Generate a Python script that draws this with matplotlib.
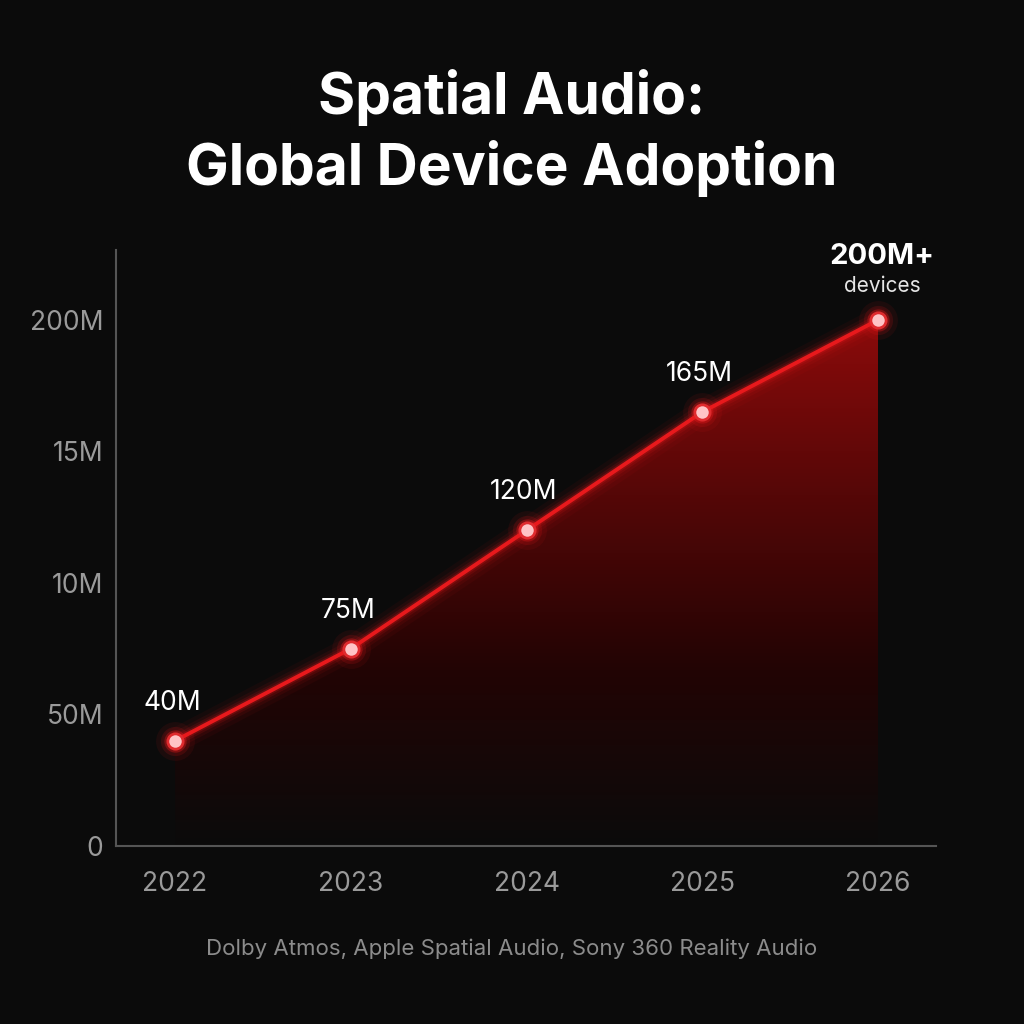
import numpy as np
import matplotlib.pyplot as plt
from matplotlib.colors import LinearSegmentedColormap
from matplotlib.patches import Polygon

plt.rcParams['font.family'] = ['Inter', 'DejaVu Sans']

# data
years = [2022, 2023, 2024, 2025, 2026]
devices = [40, 75, 120, 165, 200]          # millions
point_labels = ['40M', '75M', '120M', '165M']
ytick_vals = [0, 50, 100, 150, 200]
ytick_labels = ['0', '50M', '10M', '15M', '200M']   # as printed on the chart
title = 'Spatial Audio:\nGlobal Device Adoption'
footer = 'Dolby Atmos, Apple Spatial Audio, Sony 360 Reality Audio'

bg = '#0b0b0b'
red = '#e8191c'

fig = plt.figure(figsize=(10.24, 10.24), dpi=100, facecolor=bg)
ax = fig.add_axes([116/1024, 1 - 846/1024, 820/1024, 596/1024])
ax.set_facecolor(bg)

ax.set_xlim(2021.664, 2026.33)
ax.set_ylim(0, 226.6)

# gradient fill under the line
verts = [(years[0], 0)] + list(zip(years, devices)) + [(years[-1], 0)]
poly = Polygon(verts, closed=True, facecolor='none', edgecolor='none')
ax.add_patch(poly)
cmap = LinearSegmentedColormap.from_list('fade', [bg, '#220404', '#550707', '#8c0b0b'])
grad = np.linspace(0, 1, 256).reshape(-1, 1)
im = ax.imshow(grad, cmap=cmap, origin='lower', aspect='auto',
               extent=(years[0], years[-1], 0, 200), zorder=1)
im.set_clip_path(poly)

# glow
for lw, a in [(18, 0.05), (12, 0.08), (8, 0.13), (5, 0.22)]:
    ax.plot(years, devices, color=red, lw=lw, alpha=a, solid_capstyle='round', zorder=2)
ax.plot(years, devices, color=red, lw=2.8, zorder=3)

# markers
for ms, a in [(28, 0.08), (21, 0.15), (16, 0.35)]:
    ax.plot(years, devices, 'o', ms=ms, color=red, alpha=a, mec='none', zorder=4)
ax.plot(years, devices, 'o', ms=11, mfc='#ffc4c6', mec='#e02b2e', mew=2, zorder=5)

for x, y, lab in zip(years[:-1], devices[:-1], point_labels):
    ax.annotate(lab, (x, y), xytext=(-2, 18), textcoords='offset points',
                ha='center', va='bottom', color='white', fontsize=19, zorder=6)

ax.annotate('200M+', (years[-1], devices[-1]), xytext=(3, 36), textcoords='offset points',
            ha='center', va='bottom', color='white', fontsize=21, fontweight='bold', zorder=6)
ax.annotate('devices', (years[-1], devices[-1]), xytext=(3, 17), textcoords='offset points',
            ha='center', va='bottom', color='#e6e6e6', fontsize=15, zorder=6)

ax.set_xticks(years)
ax.set_xticklabels([str(y) for y in years])
ax.set_yticks(ytick_vals)
ax.set_yticklabels(ytick_labels)
ax.tick_params(colors='#9a9a9a', labelsize=19, length=0)
ax.tick_params(axis='x', pad=18)
ax.tick_params(axis='y', pad=9)

for s in ['top', 'right']:
    ax.spines[s].set_visible(False)
for s in ['left', 'bottom']:
    ax.spines[s].set_color('#555555')
    ax.spines[s].set_linewidth(1.5)

fig.text(0.5, 1 - 133/1024, title, ha='center', va='center', color='white',
         fontsize=41, fontweight='bold', linespacing=1.3)
fig.text(0.5, 1 - 949/1024, footer, ha='center', va='center', color='#8c8c8c', fontsize=16)

fig.savefig('out.png', dpi=100, facecolor=bg)
